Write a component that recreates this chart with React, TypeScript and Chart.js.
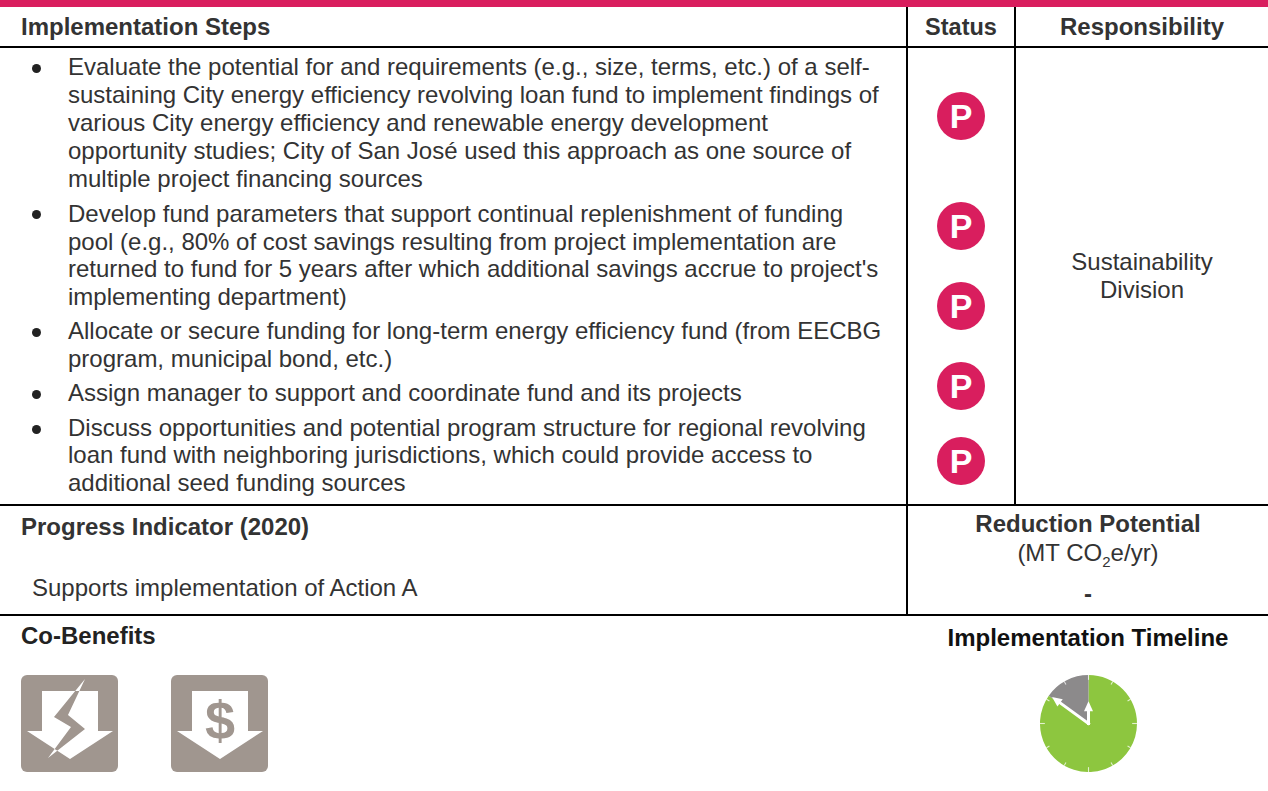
import React, { useEffect, useRef } from "react";
import { Chart, registerables } from "chart.js";

Chart.register(...registerables);

const FONT = '"Liberation Sans", Arial, sans-serif';
const PINK = "#D91E5E";

const headers = ["Implementation Steps", "Status", "Responsibility"];
const bulletGroups = [
  [
    "Evaluate the potential for and requirements (e.g., size, terms, etc.) of a self-",
    "sustaining City energy efficiency revolving loan fund to implement findings of",
    "various City energy efficiency and renewable energy development",
    "opportunity studies; City of San José used this approach as one source of",
    "multiple project financing sources",
  ],
  [
    "Develop fund parameters that support continual replenishment of funding",
    "pool (e.g., 80% of cost savings resulting from project implementation are",
    "returned to fund for 5 years after which additional savings accrue to project's",
    "implementing department)",
  ],
  [
    "Allocate or secure funding for long-term energy efficiency fund (from EECBG",
    "program, municipal bond, etc.)",
  ],
  ["Assign manager to support and coordinate fund and its projects"],
  [
    "Discuss opportunities and potential program structure for regional revolving",
    "loan fund with neighboring jurisdictions, which could provide access to",
    "additional seed funding sources",
  ],
];
const groupTops = [66.5, 214, 331, 392.5, 427.7];
const groupPitch = [28, 27.7, 27.5, 28, 27.4];
const bulletCentres = [68.7, 214.7, 332, 394, 429];
const statusCentres = [116, 226, 306, 386, 461];

const clockLabels = ["Remaining", "Elapsed"];
const clockValues = [305, 55];
const clockColours = ["#8DC63F", "#8C8A8B"];
const tickAngles = [0, 30, 60, 90, 120, 150, 180, 210, 240, 270, 300, 330];
const handAngles = [0, 306];
const handLengths = [0.46, 0.93];

const clockFace = {
  id: "clockFace",
  afterDatasetsDraw(chart: any) {
    const arc = chart.getDatasetMeta(0).data[0];
    const { x, y, outerRadius: r } = arc;
    const ctx = chart.ctx;
    ctx.save();
    ctx.strokeStyle = "#ffffff";
    ctx.fillStyle = "#ffffff";
    tickAngles.forEach((a) => {
      const t = (a * Math.PI) / 180;
      const len = a % 90 === 0 ? 0.1 : 0.07;
      ctx.lineWidth = 1.1;
      ctx.globalAlpha = 0.75;
      ctx.beginPath();
      ctx.moveTo(x + Math.sin(t) * r, y - Math.cos(t) * r);
      ctx.lineTo(x + Math.sin(t) * r * (1 - len), y - Math.cos(t) * r * (1 - len));
      ctx.stroke();
    });
    ctx.globalAlpha = 1;
    handAngles.forEach((a, i) => {
      const t = (a * Math.PI) / 180;
      const L = handLengths[i] * r;
      const ux = Math.sin(t);
      const uy = -Math.cos(t);
      ctx.lineWidth = 3;
      ctx.lineCap = "square";
      ctx.beginPath();
      ctx.moveTo(x, y);
      ctx.lineTo(x + ux * (L - 6), y + uy * (L - 6));
      ctx.stroke();
      ctx.beginPath();
      ctx.moveTo(x + ux * L, y + uy * L);
      ctx.lineTo(x + ux * (L - 10) - uy * 4.5, y + uy * (L - 10) + ux * 4.5);
      ctx.lineTo(x + ux * (L - 10) + uy * 4.5, y + uy * (L - 10) - ux * 4.5);
      ctx.closePath();
      ctx.fill();
    });
    ctx.restore();
  },
};

function Rule({ x, y, w, h, c = "#000" }: any) {
  return <div style={{ position: "absolute", left: x, top: y, width: w, height: h, background: c }} />;
}

function Txt({ x, y, s = 24, b, c = "#333", w, children }: any) {
  // y is the vertical centre of the line; x left, or centre when w is set
  return (
    <div
      style={{
        position: "absolute",
        left: w ? x - w / 2 : x,
        width: w,
        top: y - 15,
        height: 30,
        lineHeight: "30px",
        fontSize: s,
        fontWeight: b ? 700 : 400,
        color: c,
        whiteSpace: "nowrap",
        textAlign: w ? "center" : "left",
      }}
    >
      {children}
    </div>
  );
}

function Tile({ x, children }: any) {
  return (
    <svg
      width={97}
      height={97}
      viewBox="0 0 97 97"
      style={{ position: "absolute", left: x, top: 675 }}
    >
      <rect width={97} height={97} rx={6} fill="#A0968F" />
      <polygon points="21,16 77,16 77,56 92,56 49,84 6,56 21,56" fill="#fff" />
      {children}
    </svg>
  );
}

export default function App() {
  const ref = useRef<HTMLCanvasElement>(null);
  useEffect(() => {
    const chart = new Chart(ref.current!, {
      type: "pie",
      data: {
        labels: clockLabels,
        datasets: [{ data: clockValues, backgroundColor: clockColours, borderWidth: 0 }],
      },
      options: {
        animation: false,
        responsive: false,
        layout: { padding: 0 },
        plugins: { legend: { display: false }, tooltip: { enabled: false } },
      },
      plugins: [clockFace],
    });
    return () => chart.destroy();
  }, []);

  return (
    <div
      style={{
        position: "absolute",
        left: 0,
        top: 0,
        width: 1268,
        height: 791,
        background: "#fff",
        overflow: "hidden",
        fontFamily: FONT,
      }}
    >
      <Rule x={0} y={0} w={1268} h={7} c={PINK} />
      <Rule x={0} y={46} w={1268} h={2} />
      <Rule x={0} y={504} w={1268} h={2} />
      <Rule x={0} y={614} w={1268} h={2} />
      <Rule x={906} y={7} w={2} h={608} />
      <Rule x={1014} y={7} w={2} h={498} />

      <Txt x={21} y={27} b>{headers[0]}</Txt>
      <Txt x={961} y={27} w={108} b s={23.5}>{headers[1]}</Txt>
      <Txt x={1142} y={27} w={240} b>{headers[2]}</Txt>

      {bulletGroups.map((g, i) => (
        <React.Fragment key={i}>
          <div
            style={{
              position: "absolute",
              left: 32.2,
              top: bulletCentres[i] - 4.5,
              width: 9,
              height: 9,
              borderRadius: "50%",
              background: "#222",
            }}
          />
          {g.map((line, j) => (
            <Txt key={j} x={68} y={groupTops[i] + j * groupPitch[i]}>{line}</Txt>
          ))}
        </React.Fragment>
      ))}

      {statusCentres.map((y, i) => (
        <div
          key={i}
          style={{
            position: "absolute",
            left: 937,
            top: y - 24,
            width: 48,
            height: 48,
            borderRadius: "50%",
            background: PINK,
            color: "#fff",
            fontWeight: 700,
            fontSize: 34,
            lineHeight: "48px",
            textAlign: "center",
          }}
        >
          P
        </div>
      ))}

      <Txt x={1142} y={262} w={240}>Sustainability</Txt>
      <Txt x={1142} y={290} w={240}>Division</Txt>

      <Txt x={21} y={527} b>Progress Indicator (2020)</Txt>
      <Txt x={32} y={588}>Supports implementation of Action A</Txt>

      <Txt x={1088} y={524} w={300} b>Reduction Potential</Txt>
      <Txt x={1088} y={553} w={300}>
        (MT CO<sub style={{ fontSize: 15, lineHeight: 0 }}>2</sub>e/yr)
      </Txt>
      <Txt x={1088} y={594} w={40} b>-</Txt>

      <Txt x={21} y={636} b c="#222">Co-Benefits</Txt>
      <Txt x={1088} y={638} w={320} b c="#111">Implementation Timeline</Txt>

      <Tile x={21}>
        <defs>
          <clipPath id="arrowClip">
            <polygon points="21,16 77,16 77,56 92,56 49,84 6,56 21,56" />
          </clipPath>
        </defs>
        <polygon points="64,4 33,42 50,52 27,83 64,54 47,40" fill="#fff" />
        <polygon points="64,4 33,42 50,52 27,83 64,54 47,40" fill="#A0968F" clipPath="url(#arrowClip)" />
      </Tile>
      <Tile x={171}>
        <text x={49} y={64} textAnchor="middle" fontFamily={FONT} fontWeight={700} fontSize={54} fill="#A0968F">$</text>
      </Tile>

      <div style={{ position: "absolute", left: 1040, top: 675, width: 97, height: 97 }}>
        <canvas ref={ref} width={97} height={97} />
      </div>
    </div>
  );
}
